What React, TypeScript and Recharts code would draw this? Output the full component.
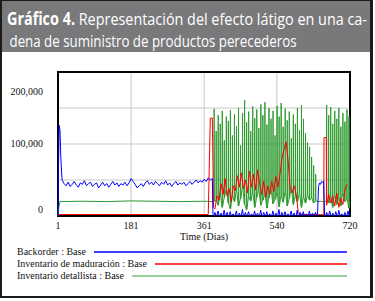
import React from 'react';
import { LineChart, Line, XAxis, YAxis, CartesianGrid, ReferenceArea, Label } from 'recharts';

// axes
const xTicks = [1, 181, 361, 540, 720];
const yTicks = [0, 50000, 100000, 150000, 200000];
const yTickLabels: Record<number, string> = { 0: '0', 100000: '100,000', 200000: '200,000' };

// Backorder : Base
// spike at start, then every 5 days from day 16, then every 2.5 days from day 382.5
const backorderSpikeDays = [1, 2, 3, 4, 6, 8, 11];
const backorderSpike = [0, 60000, 96000, 126000, 118000, 80000, 50000];
const BACKORDER_EARLY_START = 16;
const BACKORDER_EARLY_STEP = 5;
const backorderEarly = [
  45000, 42000, 47000, 41000, 44000, 48000, 43000, 40000, 46000, 44000,
  49000, 42000, 45000, 47000, 41000, 44000, 46000, 39000, 43000, 47000,
  42000, 45000, 40000, 44000, 48000, 43000, 46000, 41000, 45000, 43000,
  47000, 42000, 46000, 52000, 48000, 44000, 39000, 42000, 45000, 41000,
  46000, 49000, 44000, 47000, 43000, 48000, 45000, 42000, 47000, 44000,
  49000, 43000, 46000, 41000, 45000, 48000, 43000, 46000, 44000, 47000,
  42000, 45000, 48000, 44000, 47000, 50000, 46000, 49000, 47000, 51000,
  48000, 53000, 50000, 52000
];
const BACKORDER_LATE_START = 382.5;
const BACKORDER_LATE_STEP = 2.5;
const backorderLate = [
  2000, 900, 5000, 600, 1200, 7000, 800, 500, 4000, 1000,
  700, 8000, 600, 1100, 5000, 400, 900, 6000, 700, 1200,
  3000, 500, 800, 7000, 600, 1000, 4000, 800, 600, 9000,
  500, 1100, 5000, 700, 400, 6000, 900, 600, 3000, 1000,
  800, 7000, 500, 1200, 4000, 700, 600, 8000, 900, 500,
  5000, 1000, 700, 6000, 400, 1100, 3000, 800, 600, 7000,
  900, 500, 4000, 1000, 700, 9000, 600, 800, 5000, 400,
  1200, 6000, 700, 900, 3000, 500, 800, 7000, 600, 1000,
  4000, 700, 500, 8000, 900, 600, 5000, 1100, 700, 6000,
  400, 800, 3000, 1000, 600, 7000, 500, 900, 4000, 700,
  1200, 5000, 800, 1500, 41000, 46000, 44000, 48000, 47000, 48000,
  1000, 600, 5000, 800, 1100, 7000, 500, 900, 4000, 700,
  1000, 6000, 600, 800, 8000, 500, 1200, 3000, 700, 900,
  5000, 600, 1000, 7000, 800, 3000
];

// Inventario de maduración : Base
const maduracionDays = [1, 371, 376, 381, 384, 655.5, 656, 661.5];
const maduracion = [2000, 2000, 136000, 136000, 12000, 2000, 109000, 109000];
const MADURACION_LATE_START = 387.5;
const MADURACION_LATE_STEP = 5;
const maduracionLate = [
  10000, 28000, 22000, 45000, 30000, 52000, 28000, 38000, 20000,
  42000, 35000, 56000, 40000, 60000, 38000, 50000, 32000, 62000, 40000,
  58000, 36000, 64000, 45000, 30000, 48000, 26000, 42000, 30000, 48000,
  34000, 55000, 40000, 58000, 80000, 92000, 103000, 78000, 40000, 32000,
  42000, 30000, 6000, 2000, 2000, 2000, 2000, 2000, 2000, 2000,
  2000, 2000, 2000, 2000, 2000, 109000, 15000, 30000, 18000,
  28000, 14000, 32000, 12000, 24000, 16000, 36000, 44000
];

// Inventario detallista : Base
// flat stretches, plus two runs of short order spikes every 5 days
const detallistaDays = [1, 3, 6, 60, 120, 180, 240, 300, 360, 381, 640, 648, 655, 660, 720];
const detallista = [0, 12000, 20000, 20500, 20000, 21000, 20500, 20000, 20500, 20000, 20000, 20500, 19800, 20200, 20000];
const SPIKE_PERIOD = 5;
const DETALLISTA_RUN1_START = 385;
const detallistaRun1Peaks = [
  149000, 118000, 140000, 128000, 146000, 105000, 138000, 132000, 147000, 112000,
  141000, 125000, 150000, 98000, 143000, 161000, 130000, 145000, 118000, 152000,
  136000, 148000, 122000, 155000, 140000, 158000, 127000, 150000, 135000, 146000,
  112000, 153000, 138000, 157000, 124000, 149000, 133000, 145000, 108000, 141000,
  128000, 150000, 119000, 154000, 135000, 115000, 102000, 96000, 82000, 70000, 58000
];
const detallistaRun1Troughs = [
  20000, 22000, 15000, 30000, 12000, 25000, 38000, 18000, 10000, 28000,
  20000, 35000, 14000, 24000, 40000, 16000, 9000, 27000, 21000, 33000,
  12000, 26000, 36000, 15000, 22000, 30000, 11000, 25000, 37000, 17000,
  23000, 32000, 13000, 28000, 19000, 34000, 14000, 24000, 39000, 16000,
  27000, 20000, 31000, 12000, 26000, 18000, 29000, 22000, 25000, 18000, 21000
];
const DETALLISTA_RUN2_START = 662;
const detallistaRun2Peaks = [154000, 140000, 151000, 128000, 146000, 135000, 150000, 124000, 143000, 131000, 148000, 138000];
const detallistaRun2Troughs = [20000, 18000, 25000, 12000, 30000, 16000, 27000, 14000, 33000, 20000, 24000, 11000];

// drawing order: green under red, blue on top
const series = [
  { key: 'detallista', name: 'Inventario detallista : Base', color: '#2f9b2f', legend: '#78c278' },
  { key: 'maduracion', name: 'Inventario de maduración : Base', color: '#ff0000', legend: '#ff0000' },
  { key: 'backorder', name: 'Backorder : Base', color: '#0000ff', legend: '#0000ff' }
];
const legendOrder = ['backorder', 'maduracion', 'detallista'];

type Row = { day: number; [k: string]: number };
const rows = new Map<number, Row>();
function put(day: number, key: string, v: number) {
  const r = rows.get(day) ?? { day };
  r[key] = v;
  rows.set(day, r);
}
backorderSpikeDays.forEach((d, i) => put(d, 'backorder', backorderSpike[i]));
backorderEarly.forEach((v, i) => put(BACKORDER_EARLY_START + i * BACKORDER_EARLY_STEP, 'backorder', v));
backorderLate.forEach((v, i) => put(BACKORDER_LATE_START + i * BACKORDER_LATE_STEP, 'backorder', v));
maduracionDays.forEach((d, i) => put(d, 'maduracion', maduracion[i]));
maduracionLate.forEach((v, i) => put(MADURACION_LATE_START + i * MADURACION_LATE_STEP, 'maduracion', v));
detallistaDays.forEach((d, i) => put(d, 'detallista', detallista[i]));
function putSpikes(start: number, peaks: number[], troughs: number[]) {
  peaks.forEach((p, i) => {
    const d = start + i * SPIKE_PERIOD;
    put(d, 'detallista', troughs[i]);
    put(d + 0.5, 'detallista', p);
    put(d + 1, 'detallista', troughs[i]);
  });
}
putSpikes(DETALLISTA_RUN1_START, detallistaRun1Peaks, detallistaRun1Troughs);
putSpikes(DETALLISTA_RUN2_START, detallistaRun2Peaks, detallistaRun2Troughs);
const data = [...rows.values()].sort((a, b) => a.day - b.day);

const SERIF = "'Liberation Serif', 'Times New Roman', serif";

function YTick({ x, y, payload }: any) {
  const label = yTickLabels[payload.value];
  if (!label) return null;
  // vensim puts the end labels inside the frame
  const shift = payload.value === 200000 ? 19 : payload.value === 0 ? -7 : -1;
  return <text x={x - 15} y={y + shift + 3.5} textAnchor="end" fontSize={10} fontFamily={SERIF} fill="#111">
      {label}
    </text>;
}

function XTick({ x, y, payload }: any) {
  return <text x={x} y={y + 12.5} textAnchor="middle" fontSize={10} fontFamily={SERIF} fill="#111">
      {payload.value}
    </text>;
}

function LegendRow({ name, color }: { name: string; color: string }) {
  return <div style={{
    display: 'flex',
    alignItems: 'center',
    height: 12,
    lineHeight: '12px'
  }}>
      <span style={{
      whiteSpace: 'nowrap'
    }}>{name}</span>
      <svg height={4} style={{
      flex: 1,
      marginLeft: 8,
      display: 'block'
    }}>
        <line x1="0" x2="100%" y1={2} y2={2} stroke={color} strokeWidth={1.5} />
      </svg>
    </div>;
}

export default function App() {
  return <div style={{
    position: 'absolute',
    left: 0,
    top: 0,
    width: 375,
    height: 301,
    background: '#fff'
  }}>
      <div style={{
      position: 'absolute',
      left: 0,
      top: 0,
      width: 373,
      height: 298,
      boxSizing: 'border-box',
      borderStyle: 'solid',
      borderColor: '#1a1a1a',
      borderWidth: '1px 3px 2px 2px'
    }} />
      <svg width={368} height={51} style={{
      position: 'absolute',
      left: 2,
      top: 1
    }}>
        <rect width={368} height={51} fill="#79797b" />
        <text x={5} y={23.5} textLength={360} lengthAdjust="spacingAndGlyphs" fill="#fff" fontSize={17} fontFamily="'Open Sans', sans-serif">
          <tspan fontWeight={700}>Gráfico 4.</tspan> Representación del efecto látigo en una ca-
        </text>
        <text x={7.5} y={45.5} textLength={287} lengthAdjust="spacingAndGlyphs" fill="#fff" fontSize={17} fontFamily="'Open Sans', sans-serif">
          dena de suministro de productos perecederos
        </text>
      </svg>
      <div style={{
      position: 'absolute',
      left: 0,
      top: 0
    }}>
        <LineChart width={373} height={298} data={data} margin={{
        top: 72,
        right: 23,
        bottom: 52,
        left: 0
      }}>
          <CartesianGrid stroke="#c8c8c8" strokeWidth={1} />
          <XAxis dataKey="day" type="number" domain={[1, 720]} ticks={xTicks} interval={0} height={30} tickSize={0} tickMargin={0} axisLine={false} tickLine={false} tick={<XTick />}>
            <Label value="Time (Dias)" position="insideBottom" offset={6} fill="#111" fontSize={10} fontFamily={SERIF} />
          </XAxis>
          <YAxis type="number" domain={[0, 200000]} ticks={yTicks} interval={0} width={58} tickSize={0} tickMargin={0} axisLine={false} tickLine={false} tick={<YTick />} />
          {series.map(s => <Line key={s.key} dataKey={s.key} name={s.name} type="linear" stroke={s.color} strokeWidth={1} dot={false} connectNulls isAnimationActive={false} />)}
          <ReferenceArea x1={1} x2={720} y1={0} y2={200000} fill="none" stroke="#000" strokeWidth={2} />
        </LineChart>
      </div>
      <div style={{
      position: 'absolute',
      left: 17,
      top: 246,
      width: 330,
      fontFamily: SERIF,
      fontSize: 10,
      color: '#111'
    }}>
        {legendOrder.map(k => {
        const s = series.find(item => item.key === k)!;
        return <LegendRow key={k} name={s.name} color={s.legend} />;
      })}
      </div>
    </div>;
}
